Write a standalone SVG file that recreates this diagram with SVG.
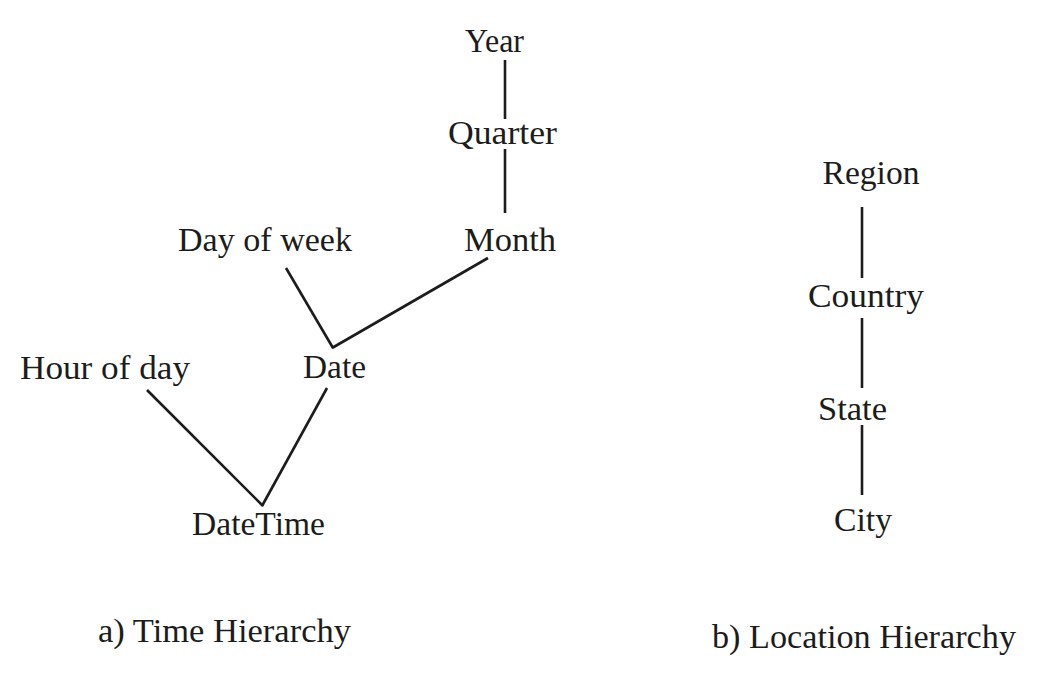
<svg xmlns="http://www.w3.org/2000/svg" width="1042" height="678" viewBox="0 0 1042 678">
<style>
text{font-family:"Liberation Serif","Times New Roman",serif;font-size:34px;fill:#1c1c1c;text-anchor:middle}
.e{stroke:#1c1c1c;stroke-width:2.6;fill:none;stroke-linecap:butt}
</style>
<rect width="1042" height="678" fill="#fff"/>
<g id="connectors">
<line class="e" x1="505" y1="60" x2="505" y2="119"/>
<line class="e" x1="505" y1="149" x2="505" y2="213"/>
<line class="e" x1="286" y1="268" x2="333" y2="348"/>
<line class="e" x1="488" y1="258" x2="332" y2="348"/>
<line class="e" x1="147" y1="390" x2="263" y2="506"/>
<line class="e" x1="327" y1="388" x2="262" y2="506"/>
<line class="e" x1="862" y1="207" x2="862" y2="278"/>
<line class="e" x1="862" y1="318" x2="862" y2="388"/>
<line class="e" x1="862" y1="425" x2="862" y2="495"/>
</g>
<g id="year"><text x="494.5" y="52" textLength="59" lengthAdjust="spacingAndGlyphs">Year</text></g>
<g id="quarter"><text x="502.5" y="144" textLength="109" lengthAdjust="spacingAndGlyphs">Quarter</text></g>
<g id="month"><text x="510" y="251" textLength="92" lengthAdjust="spacingAndGlyphs">Month</text></g>
<g id="dayofweek"><text x="265" y="251" textLength="174" lengthAdjust="spacingAndGlyphs">Day of week</text></g>
<g id="date"><text x="334.5" y="378" textLength="63" lengthAdjust="spacingAndGlyphs">Date</text></g>
<g id="hourofday"><text x="105" y="379" textLength="170" lengthAdjust="spacingAndGlyphs">Hour of day</text></g>
<g id="datetime"><text x="258.5" y="535" textLength="133" lengthAdjust="spacingAndGlyphs">DateTime</text></g>
<g id="caption-a"><text x="224.5" y="642" textLength="253" lengthAdjust="spacingAndGlyphs">a) Time Hierarchy</text></g>
<g id="region"><text x="871" y="184" textLength="97" lengthAdjust="spacingAndGlyphs">Region</text></g>
<g id="country"><text x="866" y="307" textLength="116" lengthAdjust="spacingAndGlyphs">Country</text></g>
<g id="state"><text x="852.5" y="420" textLength="69" lengthAdjust="spacingAndGlyphs">State</text></g>
<g id="city"><text x="863" y="531" textLength="58" lengthAdjust="spacingAndGlyphs">City</text></g>
<g id="caption-b"><text x="864" y="648" textLength="304" lengthAdjust="spacingAndGlyphs">b) Location Hierarchy</text></g>
</svg>
